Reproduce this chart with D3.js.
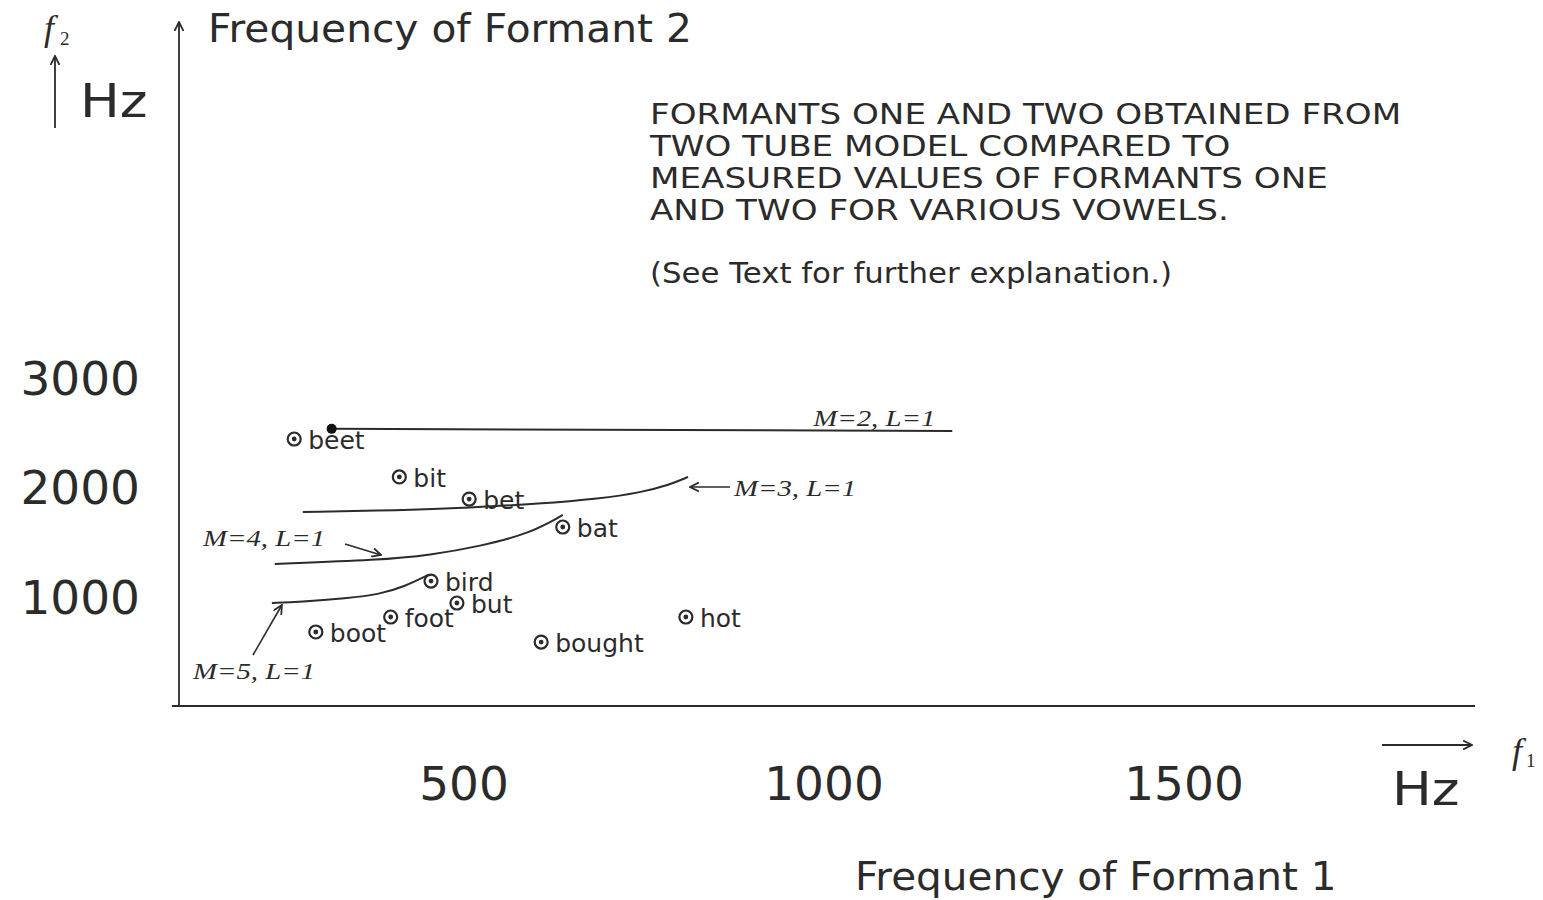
<!DOCTYPE html>
<html>
<head>
<meta charset="utf-8">
<script src="https://cdn.jsdelivr.net/npm/d3@7"></script>
<style>
  body { margin: 0; background: #fff; }
  svg { display: block; }
</style>
</head>
<body>
<svg width="1543" height="900"></svg>
<script>
// tick labels
var f1Ticks = [500, 1000, 1500];
var f2Ticks = [1000, 2000, 3000];

// measured vowels (Hz)
var vowels = ["beet", "bit", "bet", "bat", "bird", "but", "foot", "boot", "bought", "hot"];
var vowelF1 = [260, 406, 503, 633, 450, 486, 394, 290, 603, 804];
var vowelF2 = [2442, 2095, 1893, 1637, 1143, 942, 814, 677, 585, 814];

// two tube model curves
var curveNames = ["M=2, L=1", "M=3, L=1", "M=4, L=1", "M=5, L=1"];
var m2F1 = [312, 1174];
var m2F2 = [2535, 2515];
var m3F1 = [272, 407, 504, 601, 685, 740, 782, 807];
var m3F2 = [1774, 1790, 1815, 1850, 1898, 1950, 2025, 2095];
var m4F1 = [233, 379, 449, 518, 588, 633];
var m4F2 = [1299, 1335, 1381, 1460, 1580, 1747];
var m5F1 = [229, 268, 333, 379, 414, 446];
var m5F2 = [942, 951, 985, 1022, 1095, 1198];

var noteLines = [
  "FORMANTS ONE AND TWO OBTAINED FROM",
  "TWO TUBE MODEL COMPARED TO",
  "MEASURED VALUES OF FORMANTS ONE",
  "AND TWO FOR VARIOUS VOWELS."
];
var noteFoot = "(See Text for further explanation.)";

var svg = d3.select("svg"),
    width = +svg.attr("width"),
    height = +svg.attr("height");

var ink = "#2b2b2b";
var sans = "DejaVu Sans, sans-serif";
var serif = "Liberation Serif, serif";

var x = d3.scaleLinear().domain([0, 2000]).range([107, 1547]);
var y = d3.scaleLinear().domain([0, 3000]).range([706, 378]);

// arrowheads
var defs = svg.append("defs");
defs.append("marker")
    .attr("id", "head")
    .attr("viewBox", "0 -5 10 10")
    .attr("refX", 9)
    .attr("refY", 0)
    .attr("markerWidth", 10)
    .attr("markerHeight", 10)
    .attr("markerUnits", "userSpaceOnUse")
    .attr("orient", "auto")
  .append("path")
    .attr("d", "M0,-4.5L9,0L0,4.5")
    .attr("fill", "none")
    .attr("stroke", ink)
    .attr("stroke-width", 1.8);

// text with a horizontal stretch, like the scanned figure
function stext(str, px, py, size, family, sx, anchor, style) {
  return svg.append("text")
      .attr("transform", "translate(" + px + "," + py + ") scale(" + sx + ",1)")
      .attr("text-anchor", anchor || "start")
      .style("font-family", family)
      .style("font-size", size + "px")
      .style("font-style", style || "normal")
      .attr("fill", ink)
      .text(str);
}

// axes
svg.append("line")
    .attr("x1", x(90)).attr("x2", x(1900))
    .attr("y1", y(0)).attr("y2", y(0))
    .attr("stroke", ink).attr("stroke-width", 2);

svg.append("line")
    .attr("x1", x(100)).attr("x2", x(100))
    .attr("y1", y(0)).attr("y2", 22)
    .attr("stroke", ink).attr("stroke-width", 1.8)
    .attr("marker-end", "url(#head)");

svg.append("g").selectAll("text")
    .data(f1Ticks)
    .enter().append("text")
      .attr("x", d => x(d) - 3)
      .attr("y", 800)
      .attr("text-anchor", "middle")
      .style("font-family", sans)
      .style("font-size", "47px")
      .attr("fill", ink)
      .text(d => d);

svg.append("g").selectAll("text")
    .data(f2Ticks)
    .enter().append("text")
      .attr("x", 140)
      .attr("y", d => y(d) + 17)
      .attr("text-anchor", "end")
      .style("font-family", sans)
      .style("font-size", "47px")
      .attr("fill", ink)
      .text(d => d);

// axis titles
stext("Frequency of Formant 2", 208, 42, 39, sans, 1.045);
stext("Frequency of Formant 1", 855, 890, 39, sans, 1.04);

// f2 / Hz corner label
stext("f", 44, 40, 36, serif, 1, "start", "italic");
stext("2", 60, 45, 19, serif, 1);
svg.append("line")
    .attr("x1", 55).attr("x2", 55)
    .attr("y1", 128).attr("y2", 56)
    .attr("stroke", ink).attr("stroke-width", 1.8)
    .attr("marker-end", "url(#head)");
stext("Hz", 80, 117, 46, sans, 1.15);

// f1 / Hz corner label
svg.append("line")
    .attr("x1", 1382).attr("x2", 1472)
    .attr("y1", 745).attr("y2", 745)
    .attr("stroke", ink).attr("stroke-width", 1.8)
    .attr("marker-end", "url(#head)");
stext("f", 1512, 763, 36, serif, 1, "start", "italic");
stext("1", 1526, 767, 19, serif, 1);
stext("Hz", 1392, 805, 46, sans, 1.15);

// note block
noteLines.forEach(function(t, i) {
  stext(t, 650, 124 + i * 32, 28, sans, 1.22);
});
stext(noteFoot, 650, 283, 28, sans, 1.1);

// model curves
var line = d3.line()
    .x(d => x(d[0]))
    .y(d => y(d[1]))
    .curve(d3.curveBasis);

var curves = [
  d3.zip(m2F1, m2F2),
  d3.zip(m3F1, m3F2),
  d3.zip(m4F1, m4F2),
  d3.zip(m5F1, m5F2)
];

svg.append("g").selectAll("path")
    .data(curves)
    .enter().append("path")
      .attr("d", line)
      .attr("fill", "none")
      .attr("stroke", ink)
      .attr("stroke-width", 2);

// start dot of M=2
svg.append("circle")
    .attr("cx", x(m2F1[0]))
    .attr("cy", y(m2F2[0]))
    .attr("r", 5)
    .attr("fill", "#111");

// curve labels
var c2end = [x(m2F1[1]), y(m2F2[1])];
stext(curveNames[0], c2end[0] - 17, c2end[1] - 5, 24, serif, 1.2, "end", "italic");

var c3end = [x(m3F1[m3F1.length - 1]), y(m3F2[m3F2.length - 1])];
svg.append("line")
    .attr("x1", c3end[0] + 42).attr("x2", c3end[0] + 2)
    .attr("y1", c3end[1] + 10).attr("y2", c3end[1] + 10)
    .attr("stroke", ink).attr("stroke-width", 1.6)
    .attr("marker-end", "url(#head)");
stext(curveNames[1], c3end[0] + 46, c3end[1] + 19, 24, serif, 1.2, "start", "italic");

stext(curveNames[2], 203, 546, 24, serif, 1.2, "start", "italic");
svg.append("line")
    .attr("x1", 345).attr("x2", 381)
    .attr("y1", 544).attr("y2", 555)
    .attr("stroke", ink).attr("stroke-width", 1.6)
    .attr("marker-end", "url(#head)");

stext(curveNames[3], 193, 679, 24, serif, 1.2, "start", "italic");
svg.append("line")
    .attr("x1", 253).attr("x2", x(m5F1[0]) + 10)
    .attr("y1", 655).attr("y2", y(m5F2[0]) + 2)
    .attr("stroke", ink).attr("stroke-width", 1.6)
    .attr("marker-end", "url(#head)");

// measured vowel markers
var vg = svg.append("g").selectAll("g")
    .data(vowels)
    .enter().append("g")
      .attr("transform", (d, i) => "translate(" + x(vowelF1[i]) + "," + y(vowelF2[i]) + ")");

vg.append("circle")
    .attr("r", 6.5)
    .attr("fill", "#fff")
    .attr("stroke", ink)
    .attr("stroke-width", 2.2);

vg.append("circle")
    .attr("r", 2.4)
    .attr("fill", ink);

vg.append("text")
    .attr("x", 14)
    .attr("y", 10)
    .style("font-family", sans)
    .style("font-size", "25px")
    .attr("fill", ink)
    .text(d => d);
</script>
</body>
</html>
